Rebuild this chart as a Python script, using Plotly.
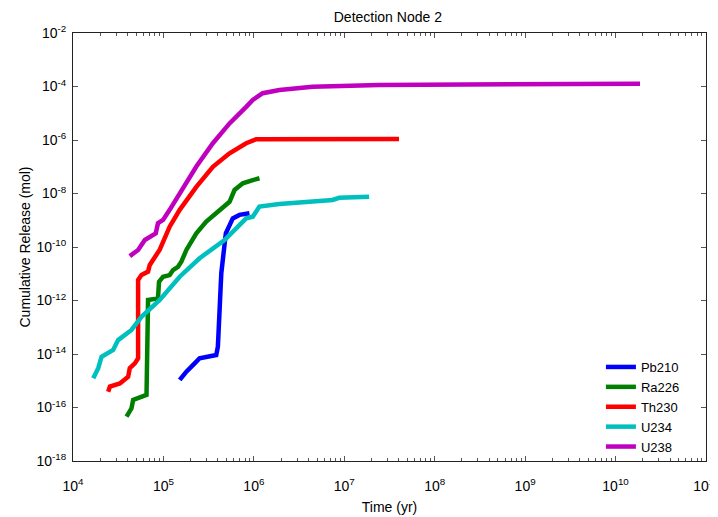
import plotly.graph_objects as go

# log10 values
pb210_logt = [5.180, 5.254, 5.345, 5.400, 5.584, 5.602, 5.640, 5.676, 5.690, 5.767, 5.841, 5.951]
pb210_logy = [-14.97, -14.66, -14.35, -14.16, -14.04, -13.73, -10.98, -9.74, -9.49, -8.93, -8.80, -8.74]

ra226_logt = [4.592, 4.647, 4.665, 4.813, 4.830, 4.940, 4.951, 4.996, 5.069, 5.106, 5.161, 5.198,
              5.254, 5.290, 5.364, 5.474, 5.621, 5.731, 5.786, 5.878, 5.988, 6.062]
ra226_logy = [-16.34, -16.03, -15.72, -15.53, -11.98, -11.92, -11.30, -11.11, -11.05, -10.86, -10.74, -10.55,
              -10.11, -9.93, -9.49, -9.05, -8.62, -8.31, -7.87, -7.62, -7.50, -7.43]

th230_logt = [4.389, 4.408, 4.518, 4.610, 4.628, 4.684, 4.720, 4.720, 4.757, 4.830, 4.849, 4.904,
              4.959, 5.069, 5.180, 5.364, 5.547, 5.731, 5.915, 6.025, 7.605]
th230_logy = [-15.41, -15.22, -15.10, -14.85, -14.53, -14.35, -14.16, -11.23, -11.05, -10.92, -10.67, -10.42,
              -10.10, -9.24, -8.61, -7.75, -7.00, -6.50, -6.12, -5.97, -5.96]

u234_logt = [4.224, 4.279, 4.316, 4.444, 4.499, 4.647, 4.757, 4.959, 5.180, 5.400, 5.676, 5.915,
             5.988, 6.062, 6.282, 6.649, 6.870, 6.944, 7.275]
u234_logy = [-14.91, -14.53, -14.10, -13.85, -13.48, -13.10, -12.61, -11.98, -11.11, -10.42, -9.74, -8.93,
             -8.87, -8.49, -8.39, -8.31, -8.24, -8.16, -8.12]

u238_logt = [4.628, 4.720, 4.794, 4.868, 4.915, 4.940, 4.996, 5.069, 5.180, 5.364, 5.547, 5.731,
             5.915, 5.988, 6.098, 6.282, 6.649, 7.385, 10.27]
u238_logy = [-10.34, -10.11, -9.74, -9.61, -9.49, -9.11, -8.99, -8.61, -7.99, -6.99, -6.12, -5.38,
             -4.76, -4.50, -4.25, -4.13, -4.01, -3.94, -3.90]

series_names = ["Pb210", "Ra226", "Th230", "U234", "U238"]
series_colors = ["#0000ff", "#008000", "#ff0000", "#00bfbf", "#bf00bf"]
series_t = [pb210_logt, ra226_logt, th230_logt, u234_logt, u238_logt]
series_y = [pb210_logy, ra226_logy, th230_logy, u234_logy, u238_logy]

x_exps = list(range(4, 12))
y_exps = list(range(-18, -1, 2))

fig = go.Figure()
for name, color, lt, ly in zip(series_names, series_colors, series_t, series_y):
    fig.add_trace(go.Scatter(
        x=[10 ** v for v in lt], y=[10 ** v for v in ly],
        mode="lines", name=name,
        line=dict(color=color, width=4.5),
    ))

font_family = "Liberation Sans, Arial, sans-serif"
x_minor = [m * 10 ** e for e in range(4, 11) for m in range(2, 10)]

# the page has an 8px body margin, so the figure is 710x509 placed at (8, 8)
fig.update_layout(
    width=710, height=509,
    margin=dict(l=65, r=12, t=25, b=56, autoexpand=False),
    paper_bgcolor="white", plot_bgcolor="white",
    font=dict(family=font_family, size=14, color="black"),
    title=dict(text="Detection Node 2", x=0.535, xanchor="center",
               yref="container", y=0.982, yanchor="middle",
               pad=dict(t=0, b=0, l=0, r=0),
               font=dict(size=14, color="black"), automargin=False),
    showlegend=True,
    legend=dict(x=0.834, y=0.2547, xanchor="left", yanchor="top",
                bgcolor="rgba(0,0,0,0)", borderwidth=0,
                font=dict(size=13, color="black"), tracegroupgap=0),
)
fig.update_xaxes(
    type="log", range=[4, 11], automargin=False,
    tickvals=[10 ** e for e in x_exps],
    ticktext=[f"10<sup>{e}</sup>" for e in x_exps],
    ticks="inside", ticklen=5, tickcolor="#555", tickwidth=1,
    ticklabelstandoff=12, ticklabeloverflow="allow",
    minor=dict(tickvals=x_minor, ticks="inside", ticklen=3, tickcolor="#555", tickwidth=1),
    showline=True, linecolor="#222", linewidth=1, mirror="ticks",
    showgrid=False, zeroline=False,
    tickfont=dict(size=14, color="black"),
    title=dict(text="Time (yr)", font=dict(size=14, color="black"), standoff=9),
)
fig.update_yaxes(
    type="log", range=[-18, -2], automargin=False,
    tickvals=[10 ** e for e in y_exps],
    ticktext=[f"10<sup>{e}</sup>" for e in y_exps],
    ticks="inside", ticklen=5, tickcolor="#555", tickwidth=1,
    ticklabelstandoff=3, ticklabeloverflow="allow",
    showline=True, linecolor="#222", linewidth=1, mirror="ticks",
    showgrid=False, zeroline=False,
    tickfont=dict(size=14, color="black"),
    title=dict(text="Cumulative Release (mol)", font=dict(size=14, color="black"), standoff=2),
)

fig.write_html("out.html")
